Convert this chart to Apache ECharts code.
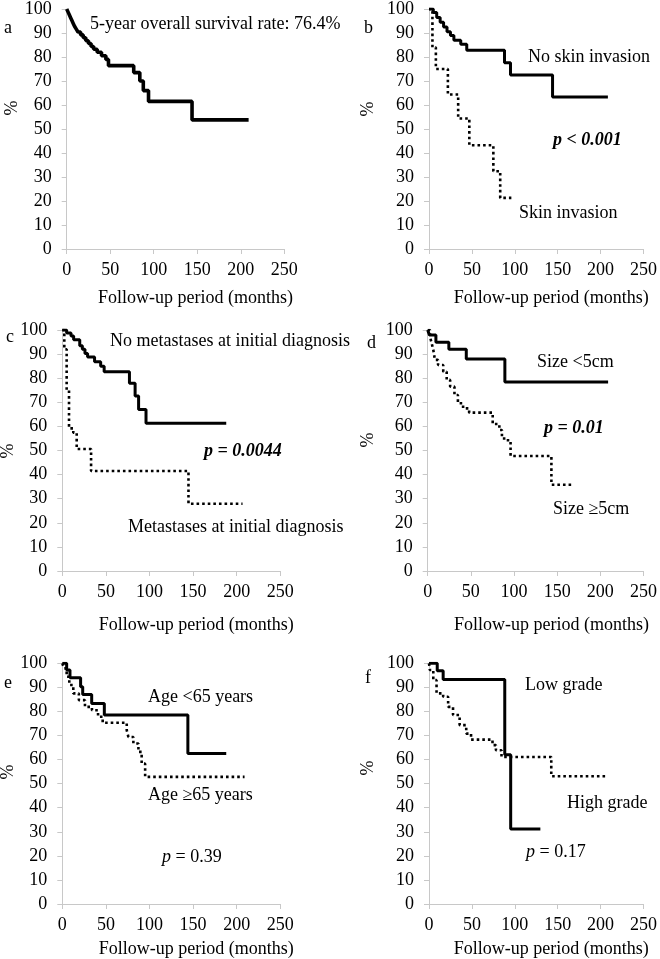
<!DOCTYPE html>
<html>
<head>
<meta charset="utf-8">
<script src="https://cdn.jsdelivr.net/npm/echarts@6/dist/echarts.min.js"></script>
<style>
    html, body {margin: 0; padding: 0; background: #fff;}
    #chart {width: 660px; height: 959px;}
</style>
</head>
<body>
<div id="chart"></div>
<script>
// axis ticks
let xTicks = [0, 50, 100, 150, 200, 250];
let yTicks = [0, 10, 20, 30, 40, 50, 60, 70, 80, 90, 100];

// a - overall
let aTime = [0, 1.5, 3, 4.5, 6, 7.5, 9, 11, 13, 16, 19, 22, 25, 28, 31, 35, 40, 45, 48, 77, 84, 88, 94, 144, 209];
let aSurv = [100, 98.8, 97.6, 96.4, 95.2, 94, 92.8, 91.6, 90.4, 89.2, 88, 86.8, 85.6, 84.4, 83.2, 82, 80.5, 79, 76.4, 73.5, 70, 66, 61.5, 53.8, 53.8];

// b - skin invasion
let bNoTime = [0, 5, 9, 13, 17, 21, 25, 29, 37, 44, 88, 95, 144, 208.5];
let bNoSurv = [100, 98.5, 96.5, 94.5, 92.5, 90.5, 89, 87, 85.3, 82.8, 77.6, 72.5, 63.3, 63.3];
let bYesTime = [0, 4, 8, 22, 34, 47, 75, 83, 96];
let bYesSurv = [100, 84, 75, 64.4, 54.4, 43.2, 32.4, 21.3, 21.3];

// c - metastases at initial diagnosis
let cNoTime = [0, 5, 10, 13, 20, 23, 26, 29, 37, 44, 48, 77, 83.5, 87.5, 96, 188];
let cNoSurv = [100, 98.8, 97.5, 96, 93.5, 92, 90.3, 88.8, 86.8, 85, 82.7, 77.9, 72.6, 67, 61.3, 61.3];
let cYesTime = [0, 2.3, 5, 7.7, 12.6, 16.5, 33, 144.7, 206.7];
let cYesSurv = [100, 92, 75, 59.2, 57.4, 50.6, 41.5, 27.9, 27.9];

// d - tumour size
let dSmallTime = [0, 2, 9.5, 24.5, 44.7, 89.4, 209];
let dSmallSurv = [100, 97.9, 94.9, 92, 88, 78.4, 78.4];
let dLargeTime = [0, 2.7, 4.6, 6.5, 8.4, 12, 18, 22, 26, 31, 35, 41, 48, 75.3, 83, 86, 93, 96, 143.3, 167];
let dLargeSurv = [100, 97.2, 94.5, 91.7, 87.6, 85.5, 82.7, 79.3, 76.5, 73, 69.6, 67.5, 65.7, 61, 58.5, 55, 53.7, 47.7, 35.8, 35.8];

// e - age
let eYoungTime = [0, 5, 8.8, 21, 23.4, 33.7, 48.2, 144, 188];
let eYoungSurv = [100, 97.2, 94, 90.3, 87, 83.3, 78.5, 62.5, 62.5];
let eOldTime = [0, 2, 5, 8, 12.6, 19, 26, 34, 41, 46.3, 73.9, 75.8, 81.5, 87.3, 91, 95, 209];
let eOldSurv = [100, 97.9, 94.4, 91, 87.5, 84.7, 81.9, 80.5, 77.8, 75.3, 72.2, 69.4, 66.7, 63.2, 58.3, 52.8, 52.8];

// f - grade
let fLowTime = [0, 9.6, 16.5, 88.3, 95.2, 129.8];
let fLowSurv = [100, 96.9, 93.3, 62, 31.2, 31.2];
let fHighTime = [0, 1, 5, 8.8, 16.5, 22.3, 28, 35.7, 43.4, 49, 74, 78, 84.5, 142.5, 208.5];
let fHighSurv = [100, 97.2, 93, 87.5, 86.1, 81.9, 78.5, 74.3, 70.8, 68.3, 66, 63.9, 61.1, 53.1, 53.1];

const FONT = '"Liberation Serif", "Times New Roman", serif';
const FS = 18;

function pairs(t, s) {
    return t.map((v, i) => [v, s[i]]);
}

// grid boxes and name offsets for each panel
let panels = [
    {grid: {left: 66.7, top: 8, width: 217.6, height: 241}, nameGap: 40, namePad: 40, lw: 3.6,
        curves: [[aTime, aSurv, 'solid']]},
    {grid: {left: 429, top: 8, width: 217, height: 241}, nameGap: 40, namePad: 30, lw: 3,
        curves: [[bNoTime, bNoSurv, 'solid'], [bYesTime, bYesSurv, 'dotted']]},
    {grid: {left: 62.3, top: 330, width: 218, height: 241}, nameGap: 45, namePad: 50, lw: 3,
        curves: [[cNoTime, cNoSurv, 'solid'], [cYesTime, cYesSurv, 'dotted']]},
    {grid: {left: 427.7, top: 330, width: 218, height: 241}, nameGap: 45, namePad: 32, lw: 3,
        curves: [[dSmallTime, dSmallSurv, 'solid'], [dLargeTime, dLargeSurv, 'dotted']]},
    {grid: {left: 62.3, top: 663.3, width: 218, height: 241.7}, nameGap: 36, namePad: 50, lw: 3,
        curves: [[eYoungTime, eYoungSurv, 'solid'], [eOldTime, eOldSurv, 'dotted']]},
    {grid: {left: 429, top: 663.3, width: 217, height: 241.7}, nameGap: 36, namePad: 30, lw: 3,
        curves: [[fLowTime, fLowSurv, 'solid'], [fHighTime, fHighSurv, 'dotted']]}
];

let grids = [], xAxes = [], yAxes = [], series = [];
const axisGray = '#c8c8c8';

panels.forEach((p, i) => {
    grids.push(p.grid);
    xAxes.push({
        type: 'value', gridIndex: i,
        min: xTicks[0], max: xTicks[xTicks.length - 1], interval: xTicks[1] - xTicks[0],
        name: 'Follow-up period (months)', nameLocation: 'middle', nameGap: p.nameGap,
        nameTextStyle: {fontFamily: FONT, fontSize: FS, color: '#000', padding: [0, 0, 0, p.namePad]},
        axisLine: {show: true, lineStyle: {color: axisGray, width: 1}},
        axisTick: {show: true, length: 5, lineStyle: {color: axisGray}},
        axisLabel: {fontFamily: FONT, fontSize: FS, color: '#000', margin: 12},
        splitLine: {show: false}
    });
    yAxes.push({
        type: 'value', gridIndex: i,
        min: yTicks[0], max: yTicks[yTicks.length - 1], interval: yTicks[1] - yTicks[0],
        axisLine: {show: true, lineStyle: {color: axisGray, width: 1}},
        axisTick: {show: true, length: 5, lineStyle: {color: axisGray}},
        axisLabel: {fontFamily: FONT, fontSize: FS, color: '#000', margin: 15},
        splitLine: {show: false}
    });
    p.curves.forEach((c) => {
        series.push({
            type: 'line', xAxisIndex: i, yAxisIndex: i,
            step: 'end', symbol: 'none', silent: true,
            data: pairs(c[0], c[1]),
            lineStyle: c[2] === 'solid'
                ? {color: '#000', width: p.lw, type: 'solid'}
                : {color: '#000', width: 2.6, type: [2.6, 3], cap: 'butt'}
        });
    });
});

function txt(x, y, text, extra) {
    return {
        type: 'text', x: x, y: y, silent: true,
        style: Object.assign({
            text: text, font: FS + 'px ' + FONT, fill: '#000',
            align: 'left', verticalAlign: 'middle'
        }, extra || {})
    };
}

function pct(x, y) {
    let t = txt(x, y, '%', {align: 'center'});
    t.rotation = Math.PI / 2;
    return t;
}

const boldIt = 'italic bold ' + FS + 'px ' + FONT;
const pRich = {i: {fontStyle: 'italic', fontFamily: FONT, fontSize: FS}, r: {fontFamily: FONT, fontSize: FS}};

let labels = [
    txt(4, 28, 'a'), txt(90, 24, '5-year overall survival rate: 76.4%'), pct(12, 108),
    txt(364, 28, 'b'), txt(528, 57, 'No skin invasion'), pct(368, 109),
    txt(553, 140, 'p < 0.001', {font: boldIt}), txt(519, 213, 'Skin invasion'),
    txt(6, 337, 'c'), txt(110, 341, 'No metastases at initial diagnosis'), pct(8, 451),
    txt(204, 451, 'p = 0.0044', {font: boldIt}), txt(128, 527, 'Metastases at initial diagnosis'),
    txt(367, 343, 'd'), txt(537, 362, 'Size <5cm'), pct(368, 440),
    txt(544, 428, 'p = 0.01', {font: boldIt}), txt(553, 509, 'Size \u22655cm'),
    txt(4, 683, 'e'), txt(148, 697, 'Age <65 years'), pct(8, 772),
    txt(148, 795, 'Age \u226565 years'),
    txt(162, 857, '{i|p}{r| = 0.39}', {rich: pRich}),
    txt(365, 678, 'f'), txt(525, 685, 'Low grade'), pct(368, 768),
    txt(567, 803, 'High grade'),
    txt(526, 852, '{i|p}{r| = 0.17}', {rich: pRich})
];

let chart = echarts.init(document.getElementById('chart'), null, {renderer: 'canvas'});
chart.setOption({
    backgroundColor: '#fff',
    animation: false,
    grid: grids,
    xAxis: xAxes,
    yAxis: yAxes,
    series: series,
    graphic: labels
});
</script>
</body>
</html>
